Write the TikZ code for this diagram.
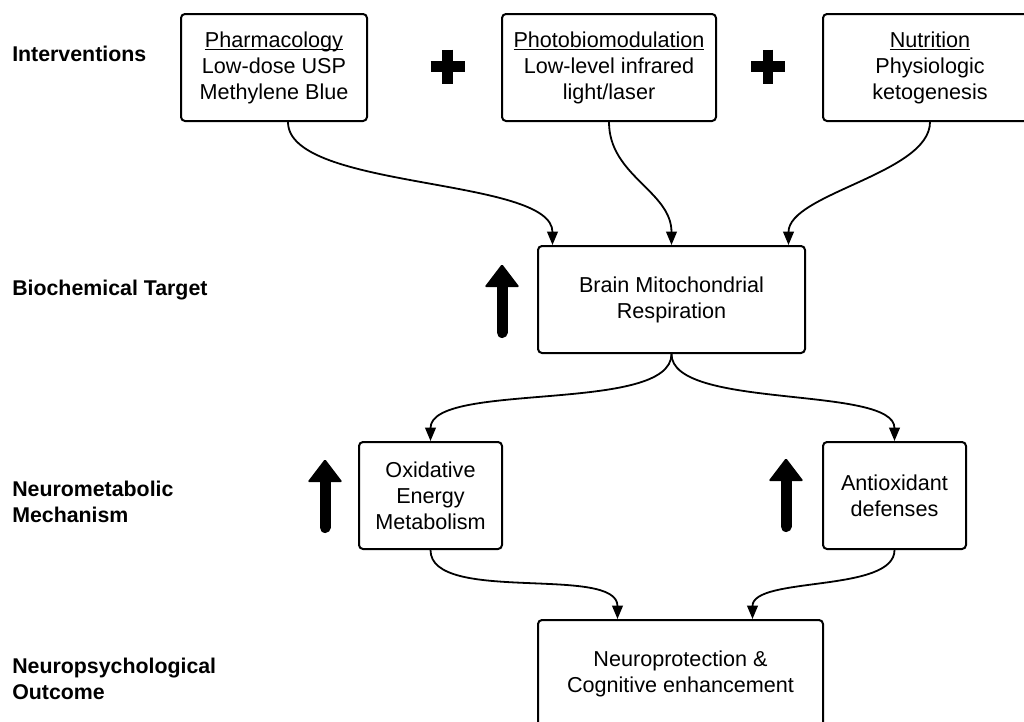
\documentclass[tikz,border=0pt]{standalone}
\usepackage{fontspec}
\setmainfont{Liberation Sans}
\usetikzlibrary{arrows.meta,calc}
\newcommand\myul[1]{\setbox0\hbox{#1}\rlap{\rule[-2.4pt]{\wd0}{0.9pt}}\box0}
\begin{document}
\begin{tikzpicture}[x=0.75pt,y=0.75pt,
  box/.style={draw, line width=1.5pt, rounded corners=3pt, align=center, inner sep=0pt,
    minimum height=80.25pt, font=\fontsize{16.2}{19.5}\selectfont},
  lab/.style={anchor=west, align=left, inner sep=0pt, font=\bfseries\fontsize{16}{19.5}\selectfont},
  conn/.style={line width=1.35pt, -{Triangle[length=10pt,width=8pt]}},
  plussign/.style={line width=7.8pt},
  upshaft/.style={line width=8.25pt, line cap=round}]
\useasboundingbox (0,0) rectangle (1024,-721);
\clip (0,0) rectangle (1024,-721);
% row labels
\node[lab] (l1) at (12,-54) {Interventions};
\node[lab] (l2) at (12,-290) {Biochemical Target};
\node[lab] (l3) at (12,-502) {Neurometabolic\\Mechanism};
\node[lab] (l4) at (12,-679) {Neuropsychological\\Outcome};
% boxes
\node[box, minimum width=139.5pt] (pharm) at (274,-67.5) {\myul{Pharmacology}\\Low-dose USP\\Methylene Blue};
\node[box, minimum width=160.5pt] (photo) at (609,-67.5) {\myul{Photobiomodulation}\\Low-level infrared\\light/laser};
\node[box, minimum width=160.5pt] (nutr) at (930,-67.5) {\myul{Nutrition}\\Physiologic\\ketogenesis};
\node[box, minimum width=200.25pt] (brain) at (671.5,-299.5) {Brain Mitochondrial\\Respiration};
\node[box, minimum width=107.25pt] (oxid) at (430.5,-495.5) {Oxidative\\Energy\\Metabolism};
\node[box, minimum width=107.25pt] (anti) at (894.5,-495.5) {Antioxidant\\defenses};
\node[box, minimum width=213.75pt] (neuro) at (680.5,-673.5) {Neuroprotection \&\\Cognitive enhancement};
% plus signs
\foreach \cx in {447.5,768}{
  \draw[plussign] (\cx-17,-66.5) -- (\cx+17,-66.5) (\cx,-49.5) -- (\cx,-83.5);
}
% up arrows
\foreach \cx/\ty/\by in {502/264/338, 325/459/533, 786/458/532}{
  \draw[upshaft] (\cx,-\by+5.5) -- (\cx,-\ty-20);
  \fill[rounded corners=1pt] (\cx-17.5,-\ty-23) -- (\cx,-\ty) -- (\cx+17.5,-\ty-23) -- cycle;
}
% connectors
\draw[conn] ($(pharm.south)+(14,0)$) to[out=-90,in=90,looseness=0.6] ($(brain.north)+(-119,0)$);
\draw[conn] (photo.south) to[out=-90,in=90] (brain.north);
\draw[conn] (nutr.south) to[out=-90,in=90,looseness=0.7] ($(brain.north)+(117,0)$);
\draw[conn] (brain.south) to[out=-90,in=90,looseness=0.6] (oxid.north);
\draw[conn] (brain.south) to[out=-90,in=90,looseness=0.6] (anti.north);
\draw[conn] (oxid.south) to[out=-90,in=90,looseness=0.7] ($(neuro.north)+(-63,0)$);
\draw[conn] (anti.south) to[out=-90,in=90,looseness=0.7] ($(neuro.north)+(72,0)$);
\end{tikzpicture}
\end{document}
